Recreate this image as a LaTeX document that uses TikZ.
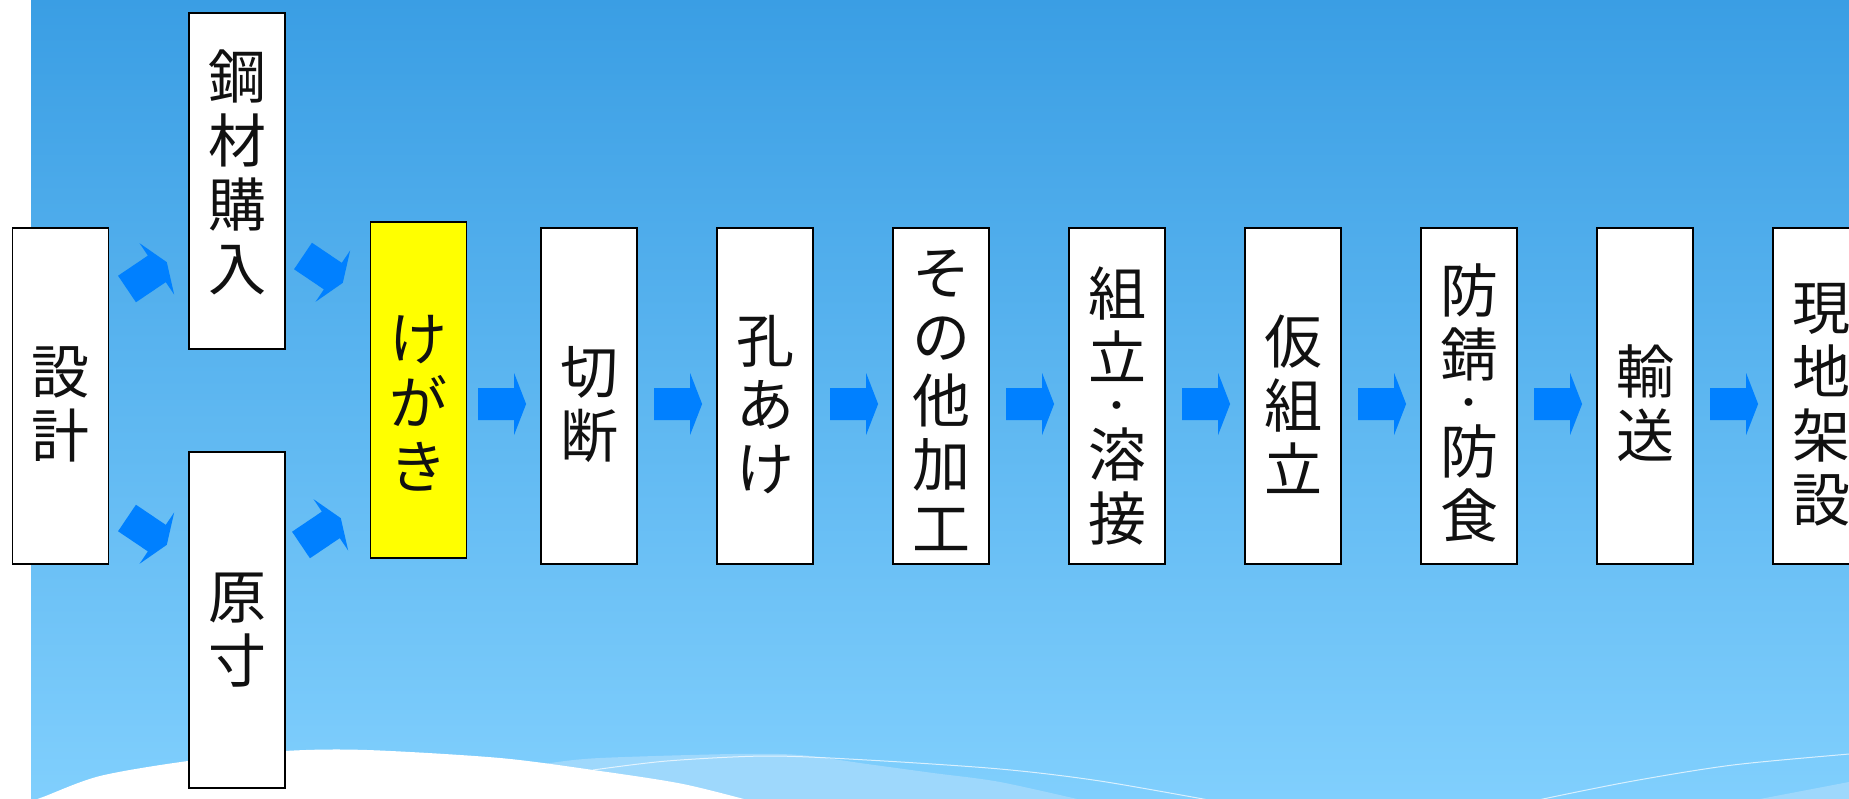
\documentclass[tikz,border=0pt]{standalone}
\usepackage{fontspec}
\newfontfamily\jp{Noto Sans CJK JP}
\usetikzlibrary{calc}
\definecolor{bgtop}{RGB}{58,158,228}
\definecolor{bgbot}{RGB}{128,207,253}
\definecolor{lightband}{RGB}{158,216,252}
\definecolor{arrowblue}{RGB}{0,128,255}
\definecolor{hl}{RGB}{255,255,0}
\definecolor{ink}{RGB}{17,17,17}
\newcommand{\middot}{{\fontsize{37}{37}\selectfont ・}}
\begin{document}
\begin{tikzpicture}[x=1pt,y=-1pt,
  stepbox/.style={draw=black, line width=1.8pt, fill=white, minimum width=96pt, minimum height=336pt, inner sep=0pt},
  boxtext/.style={font=\jp\fontsize{58}{64}\selectfont, text=ink, align=center, inner sep=0pt},
  barrow/.pic={\fill[arrowblue] (0,-16)--(36,-16)--(36,-31)--(48,0)--(36,31)--(36,16)--(0,16)--cycle;},
  wave/.style={white, opacity=0.7, line width=1pt}
]
\useasboundingbox (0,0) rectangle (1849,799);
\clip (0,0) rectangle (1849,799);
\fill[white] (0,0) rectangle (1849,799);
% background
\shade[top color=bgtop, bottom color=bgbot] (31,0) rectangle (1849,799);
% light band and lines at the bottom
\fill[lightband] plot[smooth] coordinates {(520,768) (550,763) (600,758) (733,754) (800,755) (867,764) (933,773) (1000,782) (1090,802)} -- (520,805) -- cycle;
\fill[lightband] plot[smooth] coordinates {(1740,803) (1760,799) (1849,782) (1860,780)} -- (1860,805) -- cycle;
\draw[wave] plot[smooth] coordinates {(593,770) (667,761) (767,756) (867,760) (1000,769) (1100,781) (1225,803)};
\draw[wave] plot[smooth] coordinates {(1530,803) (1543,799) (1633,781) (1733,765) (1849,754) (1860,753)};
% white hump
\fill[white] plot[smooth] coordinates {(20,805) (43,797) (100,776) (188,761) (285,751) (367,750) (500,758) (600,771) (683,784) (755,802)} -- cycle;
% boxes
\node[stepbox] (sekkei) at (60.5,396) {};
\node[stepbox] (kozai) at (237,181) {};
\node[stepbox] (gensun) at (237,620) {};
\node[stepbox, fill=hl] (kegaki) at (418.5,390) {};
\node[stepbox] (setsudan) at (589,396) {};
\node[stepbox] (ana) at (765,396) {};
\node[stepbox] (sonota) at (941,396) {};
\node[stepbox] (kumitate) at (1117,396) {};
\node[stepbox] (karikumi) at (1293,396) {};
\node[stepbox] (boseki) at (1469,396) {};
\node[stepbox] (yuso) at (1645,396) {};
\node[stepbox] (genchi) at (1821,396) {};
% texts
\node[boxtext] (sekkei-t) at ($(sekkei.center)+(0,8)$) {設\\計};
\node[boxtext] (kozai-t) at ($(kozai.center)+(0,-9)$) {鋼\\材\\購\\入};
\node[boxtext] (gensun-t) at ($(gensun.center)+(0,10)$) {原\\寸};
\node[boxtext] (kegaki-t) at ($(kegaki.center)+(0,13)$) {け\\が\\き};
\node[boxtext] (setsudan-t) at ($(setsudan.center)+(0,9)$) {切\\断};
\node[boxtext] (ana-t) at ($(ana.center)+(0,9)$) {孔\\あ\\け};
\node[boxtext] (sonota-t) at ($(sonota.center)+(0,4)$) {そ\\の\\他\\加\\工};
\node[boxtext] (kumitate-t) at ($(kumitate.center)+(0,10)$) {組\\立\\[-24pt]\middot\\[-7pt]溶\\接};
\node[boxtext] (karikumi-t) at ($(karikumi.center)+(0,8)$) {仮\\組\\立};
\node[boxtext] (boseki-t) at ($(boseki.center)+(0,7)$) {防\\錆\\[-24pt]\middot\\[-7pt]防\\食};
\node[boxtext] (yuso-t) at ($(yuso.center)+(0,7)$) {輸\\送};
\node[boxtext] (genchi-t) at ($(genchi.center)+(0,9)$) {現\\地\\架\\設};
% diagonal block arrows
\pic[rotate=34] at (127,289) {barrow};
\pic[rotate=-34] at (303,256) {barrow};
\pic[rotate=-34] at (127,518) {barrow};
\pic[rotate=34] at (301,545) {barrow};
% straight block arrows
\foreach \b in {setsudan,ana,sonota,kumitate,karikumi,boseki,yuso,genchi}
  \pic at ($(\b.west)+(-62,8)$) {barrow};
\end{tikzpicture}
\end{document}
